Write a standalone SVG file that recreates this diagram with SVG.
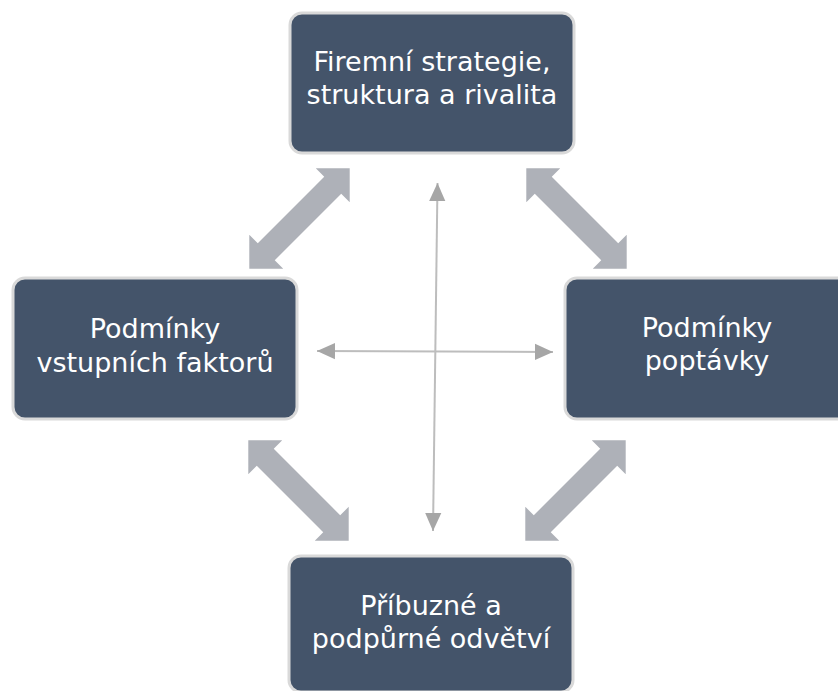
<svg xmlns="http://www.w3.org/2000/svg" width="838" height="691" viewBox="0 0 838 691">
<style>
.box{fill:#44546a;stroke:#d9d9d9;stroke-width:3}
.lbl{fill:#ffffff;font-family:"DejaVu Sans","Open Sans",sans-serif;font-size:27px;text-anchor:middle}
.big{fill:#aeb1b8}
.thin{stroke:#bdbdbd;stroke-width:2;fill:none}
</style>
<defs>
<path id="dbl" d="M -71 0 L -47 -24 L -47 -12 L 47 -12 L 47 -24 L 71 0 L 47 24 L 47 12 L -47 12 L -47 24 Z"/>
<marker id="ah" viewBox="0 0 10 10" refX="10" refY="5" markerWidth="18" markerHeight="18" markerUnits="userSpaceOnUse" orient="auto-start-reverse">
<path d="M0 0.5 L10 5 L0 9.5 Z" fill="#a6a6a6"/>
</marker>
</defs>
<rect width="838" height="691" fill="#ffffff"/>
<g id="connectors">
<use href="#dbl" class="big" transform="translate(299.5 218.5) rotate(-45)"/>
<use href="#dbl" class="big" transform="translate(576.5 218.5) rotate(45)"/>
<use href="#dbl" class="big" transform="translate(298.5 490.5) rotate(45)"/>
<use href="#dbl" class="big" transform="translate(575.5 490.5) rotate(-45)"/>
<line class="thin" x1="317" y1="351" x2="553" y2="352" marker-start="url(#ah)" marker-end="url(#ah)"/>
<line class="thin" x1="437.5" y1="183" x2="433" y2="531" marker-start="url(#ah)" marker-end="url(#ah)"/>
</g>
<g id="node-top">
<rect class="box" x="290" y="13" width="284" height="140" rx="12"/>
<text class="lbl" x="432" y="71">Firemní strategie,</text>
<text class="lbl" x="432" y="104">struktura a rivalita</text>
</g>
<g id="node-left">
<rect class="box" x="13" y="278" width="284" height="141" rx="12"/>
<text class="lbl" x="155" y="338">Podmínky</text>
<text class="lbl" x="155" y="372">vstupních faktorů</text>
</g>
<g id="node-right">
<rect class="box" x="565" y="278" width="284" height="141" rx="12"/>
<text class="lbl" x="707" y="337">Podmínky</text>
<text class="lbl" x="707" y="370">poptávky</text>
</g>
<g id="node-bottom">
<rect class="box" x="289" y="556" width="284" height="136" rx="12"/>
<text class="lbl" x="431" y="615">Příbuzné a</text>
<text class="lbl" x="431" y="648">podpůrné odvětví</text>
</g>
</svg>
